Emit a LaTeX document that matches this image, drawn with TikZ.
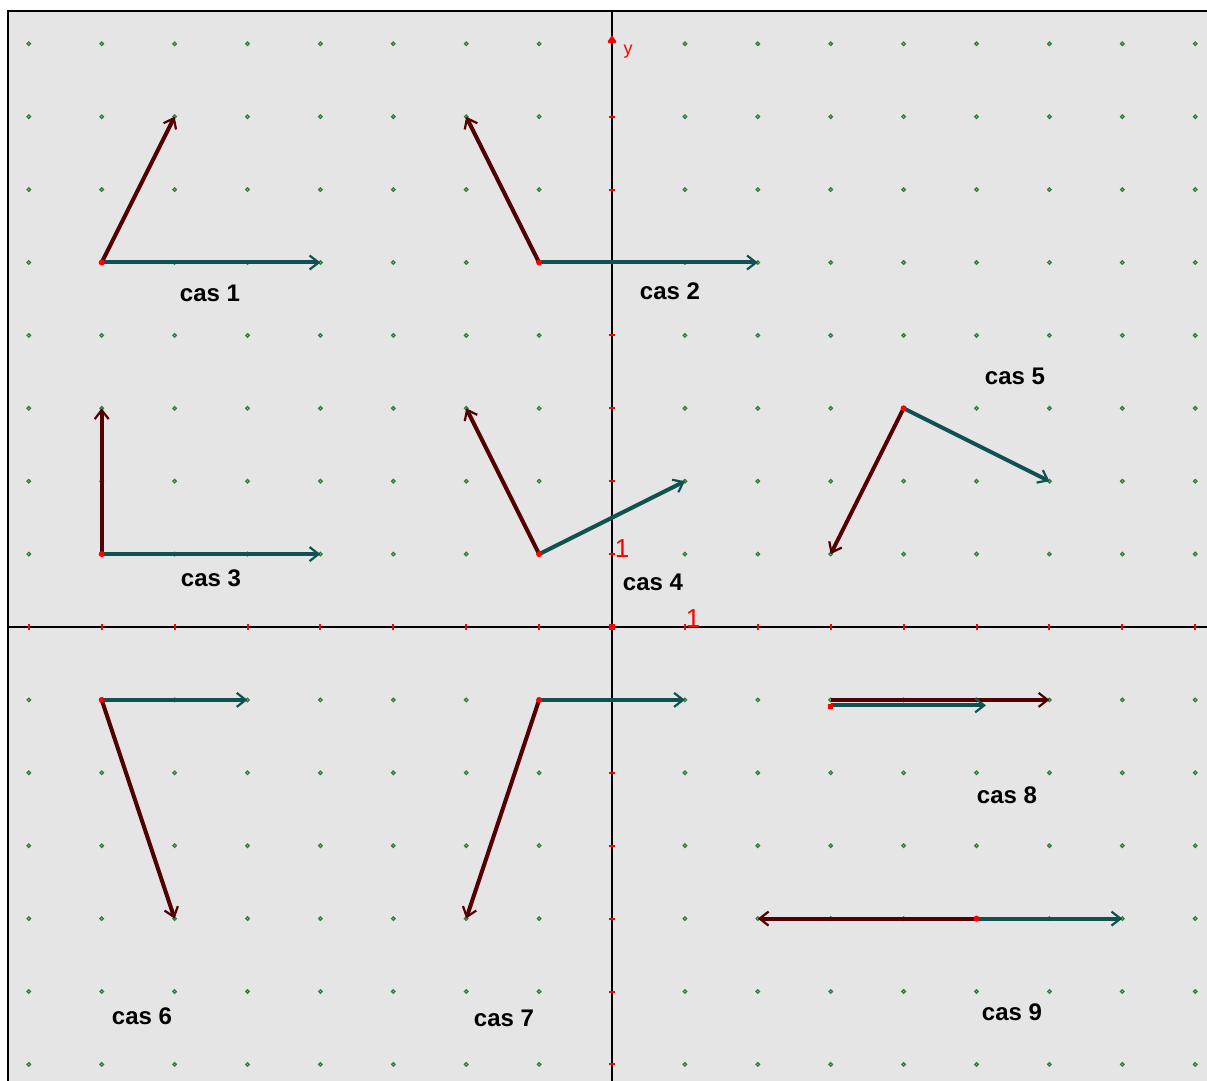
\documentclass[tikz,border=0pt]{standalone}
\usepackage{fontspec}
\setmainfont{Liberation Sans}
\usetikzlibrary{arrows.meta}
\definecolor{bgc}{RGB}{229,229,229}
\definecolor{vbrown}{RGB}{82,0,0}
\definecolor{vteal}{RGB}{16,82,82}
\definecolor{gdot}{RGB}{50,125,60}
\definecolor{gdotin}{RGB}{150,195,150}
\definecolor{axred}{RGB}{255,0,0}
\begin{document}
\begin{tikzpicture}[x=0.5pt,y=-0.5pt,
  vbr/.style={draw=vbrown, line width=2pt, -{Straight Barb[length=4.5pt,width=7pt,line width=1.1pt]}},
  vte/.style={draw=vteal, line width=2pt, -{Straight Barb[length=4.5pt,width=7pt,line width=1.1pt]}},
  lbl/.style={font=\bfseries\fontsize{12}{14}\selectfont, text=black, inner sep=0pt},
  redlbl/.style={font=\fontsize{13}{15}\selectfont, text=axred, inner sep=0pt},
  orig/.style={fill=axred},
  gdotst/.style={draw=gdot, fill=gdotin, line width=0.6pt}
]
\useasboundingbox (0,0) rectangle (1207,1081);
\fill[white] (0,0) rectangle (1207,1081);
\fill[bgc] (8,11) rectangle (1207,1081);
\draw[line width=1pt] (8,1081) -- (8,11) -- (1207,11);

% axes
\draw[line width=0.9pt] (612,11) -- (612,1081);
\draw[line width=0.9pt] (8,627) -- (1207,627);

\begin{scope}[shift={(612,627)}, x=36.45pt, y=36.45pt]
  % grid dots and ticks
  \foreach \i in {-8,...,8} {
    \foreach \j in {-6,...,8} {
      \ifnum\i=0\relax\else\ifnum\j=0\relax\else
        \filldraw[gdotst] (\i,\j) circle (0.9pt);
      \fi\fi
    }
  }
  \foreach \j in {-6,...,7} {
    \ifnum\j=0\relax\else
      \draw[axred, line width=1pt] (-1.6pt,\j) -- +(3.2pt,0);
    \fi
  }
  \foreach \i in {-8,...,8} {
    \ifnum\i=0\relax\else
      \draw[axred, line width=1pt] (\i,0) ++(0,-1.6pt) -- +(0,3.2pt);
    \fi
  }
  \fill[axred] (-1.5pt,-1.5pt) rectangle (1.5pt,1.5pt);
  \fill[axred] (0,8.05) ++(0,2.5pt) -- ++(-2.2pt,-3.2pt) -- ++(4.4pt,0) -- cycle;
  \draw[axred, line width=0.7pt] (0,8.05) ++(-2pt,-0.9pt) -- ++(4pt,0);

  % cas 1
  \coordinate (o1) at (-7,5); \coordinate (b1) at (-6,7); \coordinate (t1) at (-4,5);
  % cas 2
  \coordinate (o2) at (-1,5); \coordinate (b2) at (-2,7); \coordinate (t2) at (2,5);
  % cas 3
  \coordinate (o3) at (-7,1); \coordinate (b3) at (-7,3); \coordinate (t3) at (-4,1);
  % cas 4
  \coordinate (o4) at (-1,1); \coordinate (b4) at (-2,3); \coordinate (t4) at (1,2);
  % cas 5
  \coordinate (o5) at (4,3); \coordinate (b5) at (3,1); \coordinate (t5) at (6,2);
  % cas 6
  \coordinate (o6) at (-7,-1); \coordinate (b6) at (-6,-4); \coordinate (t6) at (-5,-1);
  % cas 7
  \coordinate (o7) at (-1,-1); \coordinate (b7) at (-2,-4); \coordinate (t7) at (1,-1);
  % cas 8
  \coordinate (o8) at (3,-1); \coordinate (b8) at (6,-1);
  \coordinate (o8t) at (3,-1.075); \coordinate (t8) at (5.13,-1.075);
  % cas 9
  \coordinate (o9) at (5,-4); \coordinate (b9) at (2,-4); \coordinate (t9) at (7,-4);

  \foreach \k in {1,...,7,9} {
    \draw[vte] (o\k) -- (t\k);
    \draw[vbr] (o\k) -- (b\k);
  }
  \draw[vbr] (o8) -- (b8);
  \draw[vte] (o8t) -- (t8);

  \foreach \k in {1,...,7,9} {
    \fill[orig] (o\k) circle (1.5pt);
  }
  \fill[orig] (o8) ++(-1.5pt,-2pt) rectangle ([xshift=1pt,yshift=-2pt]o8t);
\end{scope}

% labels
\node[lbl] (l1) at (210,293) {cas 1};
\node[lbl] (l2) at (670,291) {cas 2};
\node[lbl] (l3) at (211,578) {cas 3};
\node[lbl] (l4) at (653,582) {cas 4};
\node[lbl] (l5) at (1015,376) {cas 5};
\node[lbl] (l6) at (142,1016) {cas 6};
\node[lbl] (l7) at (504,1018) {cas 7};
\node[lbl] (l8) at (1007,795) {cas 8};
\node[lbl] (l9) at (1012,1012) {cas 9};

\node[redlbl] (one1) at (622,549) {1};
\node[redlbl] (one2) at (693,619) {1};
\node[redlbl, font=\fontsize{9}{11}\selectfont] (ylab) at (628,52) {y};
\end{tikzpicture}
\end{document}
